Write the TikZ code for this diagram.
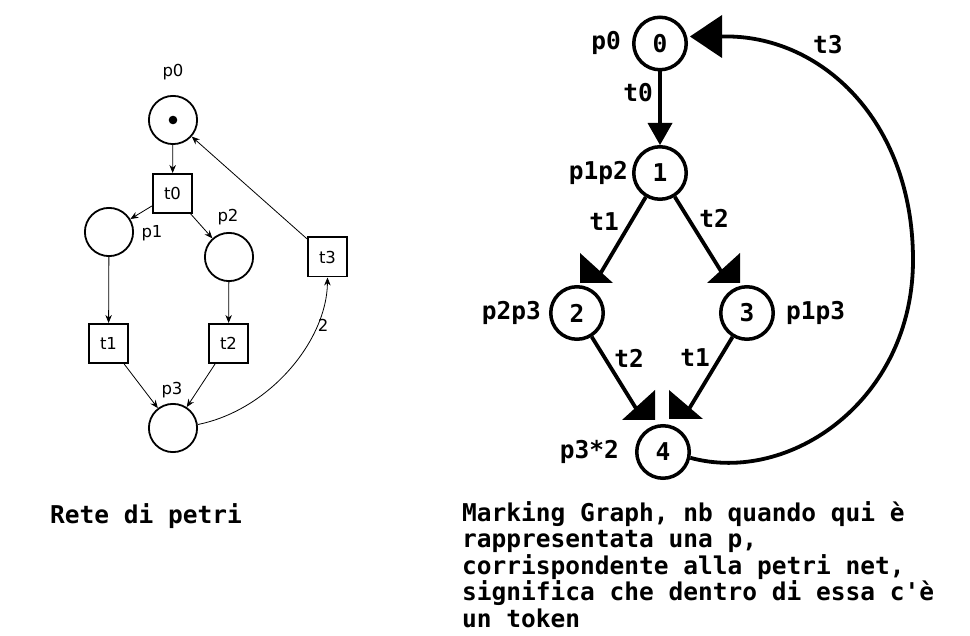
\documentclass[tikz,border=0pt]{standalone}
\usepackage{fontspec}
\newfontfamily\monofont{DejaVu Sans Mono Bold}
\newfontfamily\netfont{DejaVu Sans}
\usetikzlibrary{arrows.meta,calc}
\tikzset{
  place/.style={circle,draw,line width=1.8pt,minimum size=48.2pt,inner sep=0pt},
  trans/.style={rectangle,draw,line width=1.8pt,minimum size=39.2pt,inner sep=0pt,font=\netfont\fontsize{16.5}{16.5}\selectfont},
  netarc/.style={line width=0.8pt,-{Stealth[length=8pt,width=6.5pt]}},
  netlabel/.style={font=\netfont\fontsize{16.5}{16.5}\selectfont,inner sep=0pt},
  state/.style={circle,draw,line width=3.5pt,minimum size=52.5pt,inner sep=0pt,font=\monofont\fontsize{24.5}{26}\selectfont},
  glabel/.style={font=\monofont\fontsize{24.5}{26}\selectfont,inner sep=0pt},
  gedge/.style={line width=3.8pt},
  ghead/.style={fill=black},
  caption/.style={font=\monofont\fontsize{24.5}{26.5}\selectfont,inner sep=0pt,align=left}
}
\begin{document}
\begin{tikzpicture}[x=1pt,y=-1pt]
\useasboundingbox[fill=white] (0,0) rectangle (970,636);

% ---------- Petri net ----------
\node[place] (p0) at (173,120) {};
\fill (p0.center) circle (4.3pt);
\node[trans] (t0) at (172.5,193.5) {t0};
\node[place] (p1) at (109,232) {};
\node[place] (p2) at (229,257) {};
\node[trans] (t1) at (108.5,343.5) {t1};
\node[trans] (t2) at (228.5,343.5) {t2};
\node[trans] (t3) at (327.5,257) {t3};
\node[place] (p3) at (173,428) {};

\node[netlabel] (lp0) at (173,72) {p0};
\node[netlabel] (lp1) at (152,233) {p1};
\node[netlabel] (lp2) at (228,217) {p2};
\node[netlabel] (lp3) at (172,390) {p3};

\draw[netarc] (p0) -- (t0);
\draw[netarc] (t0) -- (p1);
\draw[netarc] (t0) -- (p2);
\draw[netarc] (p1) -- (t1);
\draw[netarc] (p2) -- (t2);
\draw[netarc] (t1) -- (p3);
\draw[netarc] (t2) -- (p3);
\draw[netarc] (t3) -- (p0);
\draw[netarc] (p3.8) .. controls (270,410) and (327,340) .. (t3.south);
\node[netlabel] (w2) at (323,325) {2};

\node[caption,anchor=base west] (cap1) at (50,523) {Rete di petri};

% ---------- Marking graph ----------
\node[state] (n0) at (660,43.5) {0};
\node[state] (n1) at (660,173) {1};
\node[state] (n2) at (577,313) {2};
\node[state] (n3) at (747,313) {3};
\node[state] (n4) at (663,452) {4};

\node[glabel,anchor=east] (lp0g) at (621,43) {p0};
\node[glabel,anchor=east] (lp12) at (628,173) {p1p2};
\node[glabel,anchor=east] (lp23) at (541,313) {p2p3};
\node[glabel,anchor=west] (lp13) at (786,313) {p1p3};
\node[glabel,anchor=east] (lp32) at (619,452) {p3*2};

\node[glabel] (lt0) at (638,93) {t0};
\node[glabel] (lt1a) at (604,222) {t1};
\node[glabel] (lt2a) at (714,218) {t2};
\node[glabel] (lt2b) at (629,358) {t2};
\node[glabel] (lt1b) at (695,358) {t1};
\node[glabel,anchor=west] (lt3) at (813,45) {t3};

\draw[gedge,shorten >=6pt] (n0) -- (n1);
\fill[ghead] ($(n1.center)+(-12.5,-50)$) -- ($(n1.center)+(12.5,-50)$) -- ($(n1.center)+(0,-28)$) -- cycle;

\draw[gedge,shorten >=14pt] (n1) -- (n2);
\fill[ghead] ($(n2.center)+(3,-60)$) -- ($(n2.center)+(3,-30)$) -- ($(n2.center)+(36,-30)$) -- cycle;

\draw[gedge,shorten >=14pt] (n1) -- (n3);
\fill[ghead] ($(n3.center)+(-7,-60)$) -- ($(n3.center)+(-7,-30)$) -- ($(n3.center)+(-40,-30)$) -- cycle;

\draw[gedge,shorten >=14pt] (n2) -- (n4);
\fill[ghead] ($(n4.center)+(-8,-62)$) -- ($(n4.center)+(-8,-32)$) -- ($(n4.center)+(-41,-32)$) -- cycle;

\draw[gedge,shorten >=14pt] (n3) -- (n4);
\fill[ghead] ($(n4.center)+(6,-62)$) -- ($(n4.center)+(6,-33)$) -- ($(n4.center)+(40,-33)$) -- cycle;

\coordinate (t3end) at (722,36.5);
\draw[gedge] (n4.-12) .. controls (790,485) and (913,400) .. (913,260)
  .. controls (913,120) and (820,34) .. (t3end);
\fill[ghead] (722,15) -- (722,58) -- (690,36.5) -- cycle;

\node[caption,anchor=base west] (cap2) at (462,627) {Marking Graph, nb quando qui è\\rappresentata una p,\\corrispondente alla petri net,\\significa che dentro di essa c'è\\un token};
\end{tikzpicture}
\end{document}
